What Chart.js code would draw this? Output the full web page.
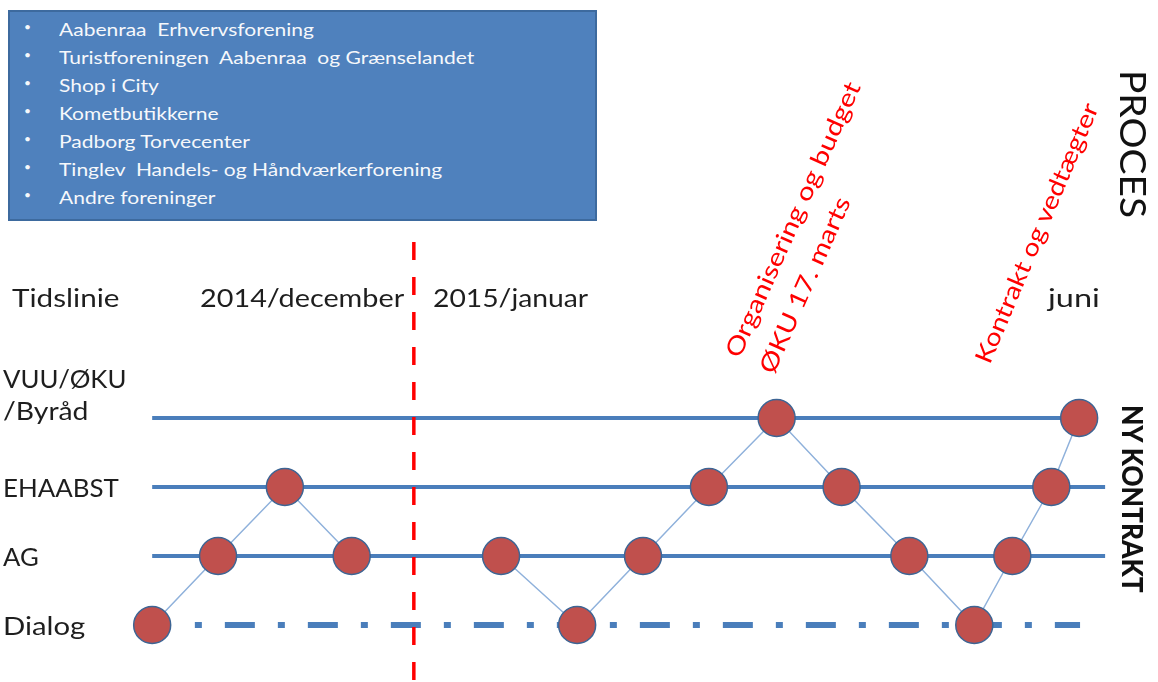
<!DOCTYPE html>
<html>
<head>
<meta charset="utf-8">
<script src="https://cdn.jsdelivr.net/npm/chart.js"></script>
<style>
    html, body { margin: 0; padding: 0; background: #fff; }
    #wrap { position: relative; width: 1158px; height: 682px; overflow: hidden; font-family: Lato, "Open Sans", sans-serif; }
    #chartBox { position: absolute; left: 0; top: 0; width: 1158px; height: 682px; }
    .lbl { position: absolute; white-space: nowrap; line-height: 1; color: #1e1e1e; transform-origin: 0 50%; }
    .axisLbl { font-size: 25px; }
    #members { position: absolute; left: 8px; top: 10px; width: 585px; height: 207px; background: #4f81bd; border: 2px solid #3d6a9e; }
    .row { position: absolute; left: 0; white-space: pre; line-height: 1; color: #f6f8fb; font-size: 17px; }
    .bullet { position: absolute; left: 14px; font-size: 12px; }
    .rowText { position: absolute; left: 49px; transform-origin: 0 50%; white-space: pre; }
    .vert { position: absolute; white-space: nowrap; line-height: 1; color: #111; transform-origin: 0 0; }
    .mile { position: absolute; white-space: nowrap; line-height: 1; color: #ff0000; font-size: 24px; }
</style>
</head>
<body>
<div id="wrap">
    <div id="chartBox"><canvas id="processChart"></canvas></div>
    <div id="members"></div>
</div>
<script>
// 데이터
const lanes = ['Dialog', 'AG', 'EHAABST', 'VUU/ØKU\n/Byråd'];
const periods = ['Tidslinie', '2014/december', '2015/januar', 'juni'];
const members = [
    'Aabenraa  Erhvervsforening',
    'Turistforeningen  Aabenraa  og Grænselandet',
    'Shop i City',
    'Kometbutikkerne',
    'Padborg Torvecenter',
    'Tinglev  Handels- og Håndværkerforening',
    'Andre foreninger'
];
// 단계별 시간 위치와 레인
const stepTime = [0, 7.1, 14.3, 21.5, 37.6, 45.8, 52.9, 60.0, 67.3, 74.3, 81.6, 88.6, 92.7, 96.9, 99.9];
const stepLane = [0, 1, 2, 1, 1, 0, 1, 2, 3, 2, 1, 0, 1, 2, 3];
const laneStart = [4.6, 0, 0, 0];
const laneEnd = [100, 102.7, 102.7, 100];
const yearBreak = 28.2;
const yearBreakTop = 5.55;
const milestones = ['Organisering og budget\nØKU 17. marts', 'Kontrakt og vedtægter'];
const processTitle = 'PROCES';
const endLabel = 'NY KONTRAKT';

// 레이아웃
const xMin = -16.4, xMax = 108.4, yMin = -0.826, yMax = 9.058;
const periodPos = [{ x: 12, w: 108 }, { x: 200, w: 204 }, { x: 433, w: 155 }, { x: 1048, w: 52 }];
const periodY = 297;
const laneW = [[82], [36], [116], [123, 85]];
const laneOffset = [[0], [0], [0], [-40, -8]];
const milePos = [
    [{ x: 740, y: 359, w: 298, a: -66 }, { x: 774, y: 375, w: 190, a: -66 }],
    [{ x: 990, y: 365, w: 280, a: -67 }]
];

const wrap = document.getElementById('wrap');

function makeChart() {
    const laneSets = lanes.map((name, i) => ({
        label: name.replace('\n', ' '),
        data: [{ x: laneStart[i], y: i }, { x: laneEnd[i], y: i }],
        showLine: true,
        borderColor: '#4a7ebb',
        borderWidth: i === 0 ? 6 : 4,
        borderDash: i === 0 ? [7, 23, 30, 23] : [],
        pointRadius: 0,
        order: 2
    }));

    return new Chart(document.getElementById('processChart'), {
        type: 'scatter',
        data: {
            datasets: [
                {
                    label: 'Forløb',
                    data: stepTime.map((t, i) => ({ x: t, y: stepLane[i] })),
                    showLine: true,
                    borderColor: '#8fb1db',
                    borderWidth: 1.5,
                    // 같은 레인 안에서는 연결선을 그리지 않음
                    segment: {
                        borderColor: ctx => ctx.p0.parsed.y === ctx.p1.parsed.y ? 'rgba(0,0,0,0)' : '#8fb1db'
                    },
                    pointRadius: 18.5,
                    pointBackgroundColor: '#c0504d',
                    pointBorderColor: '#3d6594',
                    pointBorderWidth: 1.5,
                    order: 0
                },
                {
                    label: 'Årsskifte',
                    data: [{ x: yearBreak, y: yearBreakTop }, { x: yearBreak, y: yMin }],
                    showLine: true,
                    borderColor: '#ff0000',
                    borderWidth: 3.5,
                    borderDash: [18, 17],
                    pointRadius: 0,
                    order: 1
                },
                ...laneSets
            ]
        },
        options: {
            responsive: true,
            maintainAspectRatio: false,
            devicePixelRatio: 1,
            animation: false,
            events: [],
            layout: { padding: 0, autoPadding: false },
            plugins: { legend: { display: false }, tooltip: { enabled: false } },
            scales: {
                x: { type: 'linear', min: xMin, max: xMax, display: false },
                y: { type: 'linear', min: yMin, max: yMax, display: false }
            }
        }
    });
}

// 가로 라벨 (폭 맞춤)
function addLabel(text, x, y, w) {
    const el = document.createElement('div');
    el.className = 'lbl axisLbl';
    el.textContent = text;
    el.style.left = x + 'px';
    el.style.top = y + 'px';
    wrap.appendChild(el);
    const k = w / el.offsetWidth;
    el.style.transform = `translateY(-50%) scaleX(${k})`;
}

// 세로 라벨
function addVertical(text, left, top, size, weight, len) {
    const el = document.createElement('div');
    el.className = 'vert';
    el.textContent = text;
    el.style.fontSize = size + 'px';
    el.style.fontWeight = weight;
    el.style.left = left + 'px';
    el.style.top = top + 'px';
    wrap.appendChild(el);
    const k = len / el.offsetWidth;
    el.style.transform = `rotate(90deg) scaleX(${k})`;
}

// 기울어진 빨간 메모
function addMilestone(text, p) {
    const el = document.createElement('div');
    el.className = 'mile';
    el.textContent = text;
    wrap.appendChild(el);
    const base = 0.887 * 24;
    el.style.left = p.x + 'px';
    el.style.top = (p.y - base) + 'px';
    el.style.transformOrigin = `0 ${base}px`;
    const k = p.w / el.offsetWidth;
    el.style.transform = `rotate(${p.a}deg) scaleX(${k})`;
}

function renderMembers() {
    const box = document.getElementById('members');
    const texts = [];
    members.forEach((m, i) => {
        const row = document.createElement('div');
        row.className = 'row';
        row.style.top = (17 + i * 28 - 8) + 'px';
        row.innerHTML = '<span class="bullet">•</span>';
        const t = document.createElement('span');
        t.className = 'rowText';
        t.textContent = m;
        row.appendChild(t);
        box.appendChild(row);
        texts.push(t);
    });
    const k = 415 / texts[1].offsetWidth;
    texts.forEach(t => { t.style.transform = `scaleX(${k})`; });
}

const chart = makeChart();
const yScale = chart.scales.y;

periods.forEach((p, i) => addLabel(p, periodPos[i].x, periodY, periodPos[i].w));

lanes.forEach((name, i) => {
    const py = yScale.getPixelForValue(i);
    name.split('\n').forEach((line, j) => addLabel(line, 3, py + laneOffset[i][j], laneW[i][j]));
});

milestones.forEach((m, i) => {
    m.split('\n').forEach((line, j) => addMilestone(line, milePos[i][j]));
});

addVertical(processTitle, 1152, 70, 36, 400, 148);
addVertical(endLabel, 1148, 405, 29, 900, 188);

renderMembers();
</script>
</body>
</html>
